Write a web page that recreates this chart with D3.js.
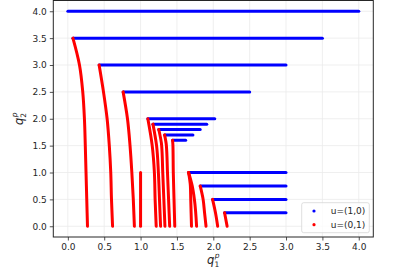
<!DOCTYPE html>
<html>
<head>
<meta charset="utf-8">
<script src="https://cdn.jsdelivr.net/npm/d3@7"></script>
<style>
  body { margin: 0; background: #fff; }
  svg { display: block; font-family: "DejaVu Sans", sans-serif; }
</style>
</head>
<body>
<script>
// tick values shared by both axes
var ticks = [0.0, 0.5, 1.0, 1.5, 2.0, 2.5, 3.0, 3.5, 4.0];

// u=(1,0): horizontal runs, one per level
var blueY     = [4.0, 3.5, 3.0, 2.5, 2.0, 1.9, 1.8, 1.7, 1.6, 1.0, 0.75, 0.5, 0.25];
var blueStart = [0.0, 0.07, 0.43, 0.76, 1.10, 1.17, 1.25, 1.33, 1.44, 1.66, 1.82, 1.99, 2.155];
var blueEnd   = [4.0, 3.5, 3.0, 2.5, 2.02, 1.91, 1.82, 1.72, 1.62, 3.0, 3.0, 3.0, 3.0];

// u=(0,1): falling branches as [q1, q2] points
var red1 = [[0.07, 3.5], [0.16, 3.0], [0.205, 2.5], [0.228, 2.0], [0.24, 1.5], [0.25, 1.0], [0.26, 0.5], [0.27, 0]];
var red2 = [[0.43, 3.0], [0.49, 2.5], [0.54, 2.0], [0.57, 1.5], [0.59, 1.0], [0.60, 0.5], [0.615, 0]];
var red3 = [[0.76, 2.5], [0.82, 2.0], [0.855, 1.5], [0.88, 1.0], [0.90, 0.5], [0.915, 0]];
var red4 = [[1.0, 1.0], [1.0, 0]];
var red5 = [[1.10, 2.0], [1.16, 1.5], [1.19, 1.0], [1.20, 0.5], [1.215, 0]];
var red6 = [[1.17, 1.9], [1.22, 1.5], [1.245, 1.0], [1.26, 0.5], [1.275, 0]];
var red7 = [[1.25, 1.8], [1.29, 1.5], [1.305, 1.0], [1.32, 0.5], [1.335, 0]];
var red8 = [[1.33, 1.7], [1.355, 1.5], [1.37, 1.0], [1.385, 0.5], [1.40, 0]];
var red9 = [[1.44, 1.6], [1.445, 1.5], [1.45, 1.0], [1.46, 0.5], [1.47, 0]];
var red10 = [[1.66, 1.0], [1.685, 0.75], [1.69, 0.5], [1.70, 0]];
var red11 = [[1.66, 1.0], [1.71, 0.75], [1.74, 0.5], [1.77, 0]];
var red12 = [[1.82, 0.75], [1.86, 0.5], [1.88, 0.25], [1.90, 0]];
var red13 = [[1.99, 0.5], [2.03, 0.25], [2.06, 0]];
var red14 = [[2.155, 0.25], [2.19, 0]];
var redCurves = [red1, red2, red3, red4, red5, red6, red7, red8, red9, red10, red11, red12, red13, red14];

var legendLabels = ["u=(1,0)", "u=(0,1)"];
var legendColors = ["#0000ff", "#ff0000"];

var w = 406;
var h = 275;
// plot box edges ("top" is taken by window.top, so prefix them)
var padLeft = 53.3, padRight = 373.3, padTop = 0.5, padBottom = 237;

var x = d3.scaleLinear().domain([-0.2, 4.2]).range([padLeft, padRight]);
var y = d3.scaleLinear().domain([-0.2, 4.2]).range([padBottom, padTop]);

var svg = d3.select("body")
            .append("svg")
            .attr("width", w)
            .attr("height", h);

// grid lines first so everything sits on top
var grid = svg.append("g").attr("stroke", "#ebebeb").attr("stroke-width", 0.8);
grid.selectAll(".gx")
    .data(ticks)
    .enter()
    .append("line")
    .attr("x1", function(d) { return x(d); })
    .attr("x2", function(d) { return x(d); })
    .attr("y1", padTop)
    .attr("y2", padBottom);
grid.selectAll(".gy")
    .data(ticks)
    .enter()
    .append("line")
    .attr("y1", function(d) { return y(d); })
    .attr("y2", function(d) { return y(d); })
    .attr("x1", padLeft)
    .attr("x2", padRight);

// blue runs
svg.append("g")
    .selectAll("line")
    .data(blueY)
    .enter()
    .append("line")
    .attr("x1", function(d, i) { return x(blueStart[i]); })
    .attr("x2", function(d, i) { return x(blueEnd[i]); })
    .attr("y1", function(d) { return y(d); })
    .attr("y2", function(d) { return y(d); })
    .attr("stroke", "#0000ff")
    .attr("stroke-width", 3)
    .attr("stroke-linecap", "round");

// red branches, drawn after blue like the second scatter call
var line = d3.line()
    .x(function(d) { return x(d[0]); })
    .y(function(d) { return y(d[1]); })
    .curve(d3.curveMonotoneY);

svg.append("g")
    .selectAll("path")
    .data(redCurves)
    .enter()
    .append("path")
    .attr("d", line)
    .attr("fill", "none")
    .attr("stroke", "#ff0000")
    .attr("stroke-width", 3)
    .attr("stroke-linecap", "round");

// axes
var xAxis = d3.axisBottom(x).tickValues(ticks).tickSize(3.5).tickPadding(3).tickFormat(d3.format(".1f"));
var yAxis = d3.axisLeft(y).tickValues(ticks).tickSize(3.5).tickPadding(3).tickFormat(d3.format(".1f"));

var gx = svg.append("g").attr("transform", "translate(0," + padBottom + ")").call(xAxis);
var gy = svg.append("g").attr("transform", "translate(" + padLeft + ",0)").call(yAxis);
[gx, gy].forEach(function(g) {
  g.select(".domain").remove();
  g.selectAll("text").attr("font-size", 9).attr("fill", "#262626").attr("font-family", "DejaVu Sans");
  g.selectAll("line").attr("stroke", "#262626").attr("stroke-width", 0.8);
});

// frame
svg.append("rect")
    .attr("x", padLeft)
    .attr("y", padTop)
    .attr("width", padRight - padLeft)
    .attr("height", padBottom - padTop)
    .attr("fill", "none")
    .attr("stroke", "#262626")
    .attr("stroke-width", 1);

// axis labels q_1^p and q_2^p
function mathLabel(g, sub) {
  var t = g.append("text").attr("font-size", 11.5).attr("fill", "#262626").attr("text-anchor", "middle");
  t.append("tspan").attr("font-style", "italic").text("q");
  t.append("tspan").attr("font-size", 7.5).attr("dy", 2.5).text(sub);
  t.append("tspan").attr("font-size", 7.5).attr("font-style", "italic").attr("dx", -4.4).attr("dy", -8.5).text("p");
  return t;
}
mathLabel(svg.append("g").attr("transform", "translate(" + ((padLeft + padRight) / 2) + ",264)"), "1");
mathLabel(svg.append("g").attr("transform", "translate(23," + ((padTop + padBottom) / 2) + ") rotate(-90)"), "2");

// legend
var lg = svg.append("g").attr("transform", "translate(301.7,202.7)");
lg.append("rect")
    .attr("width", 67.6)
    .attr("height", 30)
    .attr("rx", 2)
    .attr("fill", "#fff")
    .attr("fill-opacity", 0.8)
    .attr("stroke", "#d6d6d6")
    .attr("stroke-width", 0.8);
lg.selectAll("circle")
    .data(legendLabels)
    .enter()
    .append("circle")
    .attr("cx", 12.3)
    .attr("cy", function(d, i) { return 8.3 + i * 13.7; })
    .attr("r", 1.6)
    .attr("fill", function(d, i) { return legendColors[i]; });
lg.selectAll("text")
    .data(legendLabels)
    .enter()
    .append("text")
    .attr("x", 29)
    .attr("y", function(d, i) { return 11.4 + i * 13.7; })
    .attr("font-size", 9)
    .attr("fill", "#262626")
    .text(function(d) { return d; });
</script>
</body>
</html>
